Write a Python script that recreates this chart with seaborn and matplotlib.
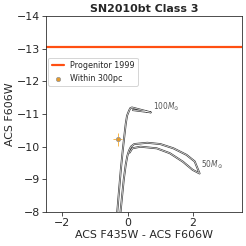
import matplotlib
matplotlib.use("Agg")
import matplotlib.pyplot as plt
import matplotlib.patheffects as pe
import seaborn as sns
import pandas as pd
import numpy as np

# Data
title = "SN2010bt Class 3"
progenitor_mag = -13.05
star_color = [-0.31]
star_mag = [-10.23]
star_xerr = [0.15]
star_yerr = [0.2]

track100_x = [-0.32, -0.27, -0.21, -0.15, -0.10, -0.06, -0.02, 0.04, 0.08, 0.13, 0.40, 0.71, 0.40, 0.16]
track100_y = [-8.0, -8.6, -9.3, -9.9, -10.35, -10.7, -10.95, -11.1, -11.18, -11.2, -11.13, -11.05, -11.09, -11.12]

track50_x = [-0.22, -0.17, -0.12, -0.06, -0.01, 0.04, 0.10, 0.20, 0.60, 1.00, 1.40, 1.80, 2.05, 2.20,
             1.99, 1.69, 1.29, 0.89, 0.39, 0.14, 0.06]
track50_y = [-8.0, -8.5, -9.0, -9.45, -9.72, -9.88, -10.0, -10.08, -10.12, -10.08, -9.95, -9.75, -9.55, -9.18,
             -9.29, -9.54, -9.80, -9.95, -10.0, -9.95, -9.82]

sns.set_style("ticks")
plt.rcParams['font.family'] = ['DejaVu Sans']

fig = plt.figure(figsize=(246/72, 246/72), dpi=72)
ax = fig.add_axes([0.187, 0.138, 0.797, 0.797])

df100 = pd.DataFrame({"x": track100_x, "y": track100_y})
df50 = pd.DataFrame({"x": track50_x, "y": track50_y})
effects = [pe.Stroke(linewidth=1.9, foreground="#3a3a3a"), pe.Normal()]
for df in (df100, df50):
    sns.lineplot(data=df, x="x", y="y", sort=False, estimator=None, color="white",
                 linewidth=0.6, ax=ax, path_effects=effects)

ax.axhline(progenitor_mag, color="#FF4F12", linewidth=2.2, label="Progenitor 1999")

ax.errorbar(star_color, star_mag, xerr=star_xerr, yerr=star_yerr, fmt="none",
            ecolor="#F5A623", elinewidth=1.0, alpha=0.8, zorder=4)
sns.scatterplot(x=star_color, y=star_mag, color="#E69A2A", edgecolor="#999999",
                s=18, linewidth=0.8, ax=ax, zorder=5, label="Within 300pc")

ax.text(0.76, -11.22, r"$100M_{\odot}$", fontsize=7.5, color="#555555", ha="left", va="center")
ax.text(2.25, -9.45, r"$50M_{\odot}$", fontsize=7.5, color="#555555", ha="left", va="center")

ax.set_xlim(-2.5, 3.5)
ax.set_ylim(-8, -14)
ax.set_xticks([-2, 0, 2])
ax.set_yticks([-8, -9, -10, -11, -12, -13, -14])
ax.tick_params(labelsize=11, length=4, pad=2)
ax.set_xlabel("ACS F435W - ACS F606W", fontsize=11, labelpad=2)
ax.set_ylabel("ACS F606W", fontsize=11, labelpad=2)
ax.set_title(title, fontsize=11, fontweight="bold", pad=4)
for s in ax.spines.values():
    s.set_visible(True)
    s.set_linewidth(0.8)

leg = ax.legend(loc="upper left", bbox_to_anchor=(0.0, 0.80), fontsize=8, frameon=True,
                borderaxespad=0.3, handlelength=1.5, handletextpad=0.8, labelspacing=0.5)

fig.savefig("out.png", dpi=72)
